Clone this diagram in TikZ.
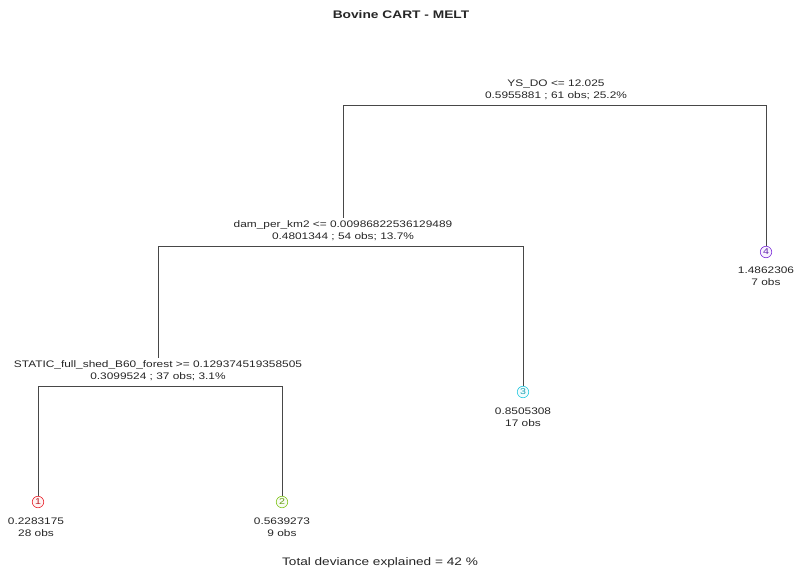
\documentclass[tikz,border=0pt]{standalone}
\usepackage{fontspec}
\setmainfont[FakeStretch=1.25]{Liberation Sans}
\definecolor{cA}{HTML}{E8202A}
\definecolor{cB}{HTML}{7FC41A}
\definecolor{cC}{HTML}{22C8E0}
\definecolor{cD}{HTML}{7A2BD8}
\begin{document}
\begin{tikzpicture}[x=1pt,y=-1pt,
  font=\fontsize{9.5}{12}\selectfont,
  lbl/.style={align=center, inner sep=0pt, outer sep=3pt, text=black!85},
  edge/.style={draw=black!72, line width=1pt},
  leaf/.style={circle, draw=#1, fill=#1!6, text=#1!80!black, line width=0.6pt,
    inner sep=0pt, minimum size=11.5pt, outer sep=0pt, font=\fontsize{8.5}{9}\selectfont},
  ttl/.style={font=\bfseries\fontsize{11}{13}\selectfont, text=black!85, inner sep=0pt}]
\useasboundingbox (0,0) rectangle (798,579);

\node[ttl] (title) at (401,15) {Bovine CART - MELT};

\node[lbl] (root) at (556,90) {YS\_DO <= 12.025\\0.5955881 ; 61 obs; 25.2\%};
\node[lbl] (s2) at (343,231) {dam\_per\_km2 <= 0.00986822536129489\\0.4801344 ; 54 obs; 13.7\%};
\node[lbl] (s3) at (158,371) {STATIC\_full\_shed\_B60\_forest >= 0.129374519358505\\0.3099524 ; 37 obs; 3.1\%};

\node[leaf=cA] (n1) at (38,502) {1};
\node[leaf=cB] (n2) at (282,502) {2};
\node[leaf=cC] (n3) at (523,392) {3};
\node[leaf=cD] (n4) at (766,252) {4};

\node[lbl] (v1) at (36,527) {0.2283175\\28 obs};
\node[lbl] (v2) at (282,527) {0.5639273\\9 obs};
\node[lbl] (v3) at (523,417) {0.8505308\\17 obs};
\node[lbl] (v4) at (766,276) {1.4862306\\7 obs};

\node[lbl, font=\fontsize{10.9}{13}\selectfont] (foot) at (380,563) {Total deviance explained = 42 \%};

\coordinate (b1) at (556,105);
\coordinate (b2) at (343,246);
\coordinate (b3) at (158,386);

\draw[edge] (s2.north) -- (s2.north |- b1) -- (n4.north |- b1) -- (n4.north);
\draw[edge] (s3.north) -- (s3.north |- b2) -- (n3.north |- b2) -- (n3.north);
\draw[edge] (n1.north) -- (n1.north |- b3) -- (n2.north |- b3) -- (n2.north);
\end{tikzpicture}
\end{document}
